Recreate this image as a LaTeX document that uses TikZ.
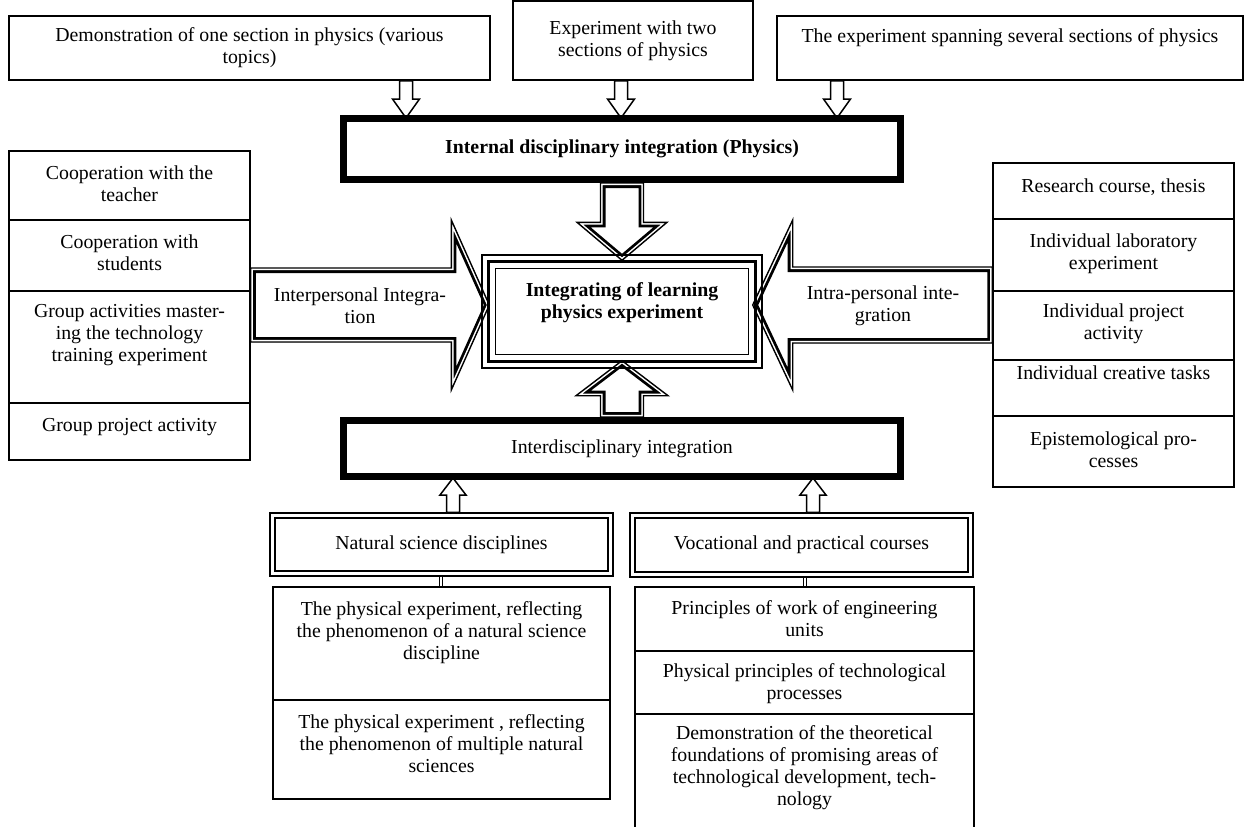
\documentclass[tikz,border=0pt]{standalone}
\usepackage{fontspec}
\setmainfont{Liberation Serif}
\usetikzlibrary{calc}
\pgfdeclarelayer{bg}
\pgfsetlayers{bg,main}
\tikzset{
  fnt/.style={font=\fontsize{19.8}{22}\selectfont},
  bfnt/.style={font=\fontsize{19.8}{22}\selectfont\bfseries},
  txt/.style={fnt, align=center, inner sep=0pt},
  box/.style={txt, draw, line width=1.5pt},
  cellbox/.style={draw, line width=1.5pt, inner sep=0pt},
  thickbox/.style={txt, draw, line width=6.5pt},
  sz/.style 2 args={minimum width=#1pt, minimum height=#2pt},
}
% block arrow geometry: prefix, start, tip, shaft half width, head half width, head length
\newcommand\mkarrow[6]{%
  \coordinate (#1-s) at (#2);
  \coordinate (#1-t) at (#3);
  \coordinate (#1-p) at ($(#1-t)!#6pt!(#1-s)$);
  \coordinate (#1-1) at ($(#1-s)!#4pt!90:(#1-t)$);
  \coordinate (#1-2) at ($(#1-p)!#4pt!90:(#1-t)$);
  \coordinate (#1-3) at ($(#1-p)!#5pt!90:(#1-t)$);
  \coordinate (#1-4) at ($(#1-p)!#5pt!-90:(#1-t)$);
  \coordinate (#1-5) at ($(#1-p)!#4pt!-90:(#1-t)$);
  \coordinate (#1-6) at ($(#1-s)!#4pt!-90:(#1-t)$);
}
\newcommand\apath[1]{(#1-1) -- (#1-2) -- (#1-3) -- (#1-t) -- (#1-4) -- (#1-5) -- (#1-6) -- cycle}
\newcommand\simplearrow[1]{\filldraw[fill=white, line width=1.5pt, line join=miter] \apath{#1};}
\newcommand\doublearrow[1]{%
  \fill[white] \apath{#1};
  \begin{scope}
    \clip \apath{#1};
    \draw[line width=10pt, line join=miter] \apath{#1};
    \draw[white, line width=4.4pt, line join=miter] \apath{#1};
  \end{scope}
  \draw[line width=1.4pt, line join=miter] \apath{#1};
}
\begin{document}
\begin{tikzpicture}[x=1pt,y=-1pt]
\useasboundingbox (0,0) rectangle (1249,827);

% top boxes
\node[box, sz={481}{64}] (A) at (249.5,48) {Demonstration of one section in physics (various\\topics)};
\node[box, sz={240}{79}] (B) at (633,40.5) {Experiment with two\\sections of physics};
\node[cellbox, sz={466}{64}] (C) at (1010,48) {};
\node[txt] (Ct) at (1010,38) {The experiment spanning several sections of physics};

% internal disciplinary integration
\node[thickbox, bfnt, sz={557.5}{61.5}] (I) at (622,149) {Internal disciplinary integration (Physics)};
\draw[line width=1.4pt] ([shift={(6.5,6.5)}]I.north west) rectangle ([shift={(-6.5,-6.5)}]I.south east);

% central box
\node[cellbox, line width=1.4pt, sz={280}{113}] (M) at (622,311.5) {};
\draw[line width=3.5pt] ([shift={(7,7)}]M.north west) rectangle ([shift={(-7,-7)}]M.south east);
\draw[line width=1.4pt] ([shift={(14,14)}]M.north west) rectangle ([shift={(-14,-14)}]M.south east);
\node[txt, bfnt] (Mt) at (622,303) {Integrating of learning\\physics experiment};

% interdisciplinary integration
\node[thickbox, sz={557.5}{56.5}] (D) at (622,448.5) {Interdisciplinary integration};
\draw[line width=1.4pt] ([shift={(6.5,6.5)}]D.north west) rectangle ([shift={(-6.5,-6.5)}]D.south east);

% natural / vocational
\node[box, line width=1.3pt, sz={343}{63}] (N) at (441.5,544.5) {Natural science disciplines};
\draw[line width=2.5pt] ([shift={(5.5,5.5)}]N.north west) rectangle ([shift={(-5.5,-5.5)}]N.south east);
\node[box, line width=1.3pt, sz={343}{64}] (V) at (801.5,545) {Vocational and practical courses};
\draw[line width=2.5pt] ([shift={(5.5,5.5)}]V.north west) rectangle ([shift={(-5.5,-5.5)}]V.south east);

% left column
\node[cellbox, sz={241}{69}] (L1) at (129.5,185.5) {};
\node[txt] (L1t) at (129.5,183.5) {Cooperation with the\\teacher};
\node[cellbox, sz={241}{71}] (L2) at (129.5,255.5) {};
\node[txt] (L2t) at (129.5,252.5) {Cooperation with\\students};
\node[cellbox, sz={241}{112}] (L3) at (129.5,347) {};
\node[txt] (L3t) at (129.5,335) {Group activities master-\\ing the technology\\training experiment};
\node[cellbox, sz={241}{57}] (L4) at (129.5,431.5) {};
\node[txt] (L4t) at (129.5,427) {Group project activity};

% right column
\node[cellbox, sz={241}{56}] (R1) at (1113.5,191) {};
\node[txt] (R1t) at (1113.5,187) {Research course, thesis};
\node[cellbox, sz={241}{72}] (R2) at (1113.5,255) {};
\node[txt] (R2t) at (1113.5,253.5) {Individual laboratory\\experiment};
\node[cellbox, sz={241}{69}] (R3) at (1113.5,325.5) {};
\node[txt] (R3t) at (1113.5,323.5) {Individual project\\activity};
\node[cellbox, sz={241}{56}] (R4) at (1113.5,388) {};
\node[txt] (R4t) at (1113.5,373) {Individual creative tasks};
\node[cellbox, sz={241}{71}] (R5) at (1113.5,451.5) {};
\node[txt] (R5t) at (1113.5,450) {Epistemological pro-\\cesses};

% bottom left column
\node[cellbox, sz={337}{113}] (B1) at (441.5,643.5) {};
\node[txt] (B1t) at (441.5,632.5) {The physical experiment, reflecting\\the phenomenon of a natural science\\discipline};
\node[cellbox, sz={337}{99}] (B2) at (441.5,749.5) {};
\node[txt] (B2t) at (441.5,744) {The physical experiment , reflecting\\the phenomenon of multiple natural\\sciences};

% bottom right column
\node[cellbox, sz={339}{64}] (C1) at (804.5,619) {};
\node[txt] (C1t) at (804.5,619) {Principles of work of engineering\\units};
\node[cellbox, sz={339}{63}] (C2) at (804.5,682.5) {};
\node[txt] (C2t) at (804.5,684) {Physical principles of technological\\processes};
\node[inner sep=0pt, sz={339}{113}] (C3) at (804.5,770.5) {};
\draw[line width=1.5pt] (C3.north west) -- (C3.south west) (C3.north east) -- (C3.south east);
\node[txt] (C3t) at (804.5,768) {Demonstration of the theoretical\\foundations of promising areas of\\technological development, tech-\\nology};

% double connectors
\draw[line width=0.9pt, double, double distance=2.6pt] (441,0 |- N.south) -- (441,0 |- B1.north);
\draw[line width=0.9pt, double, double distance=2.6pt] (805,0 |- V.south) -- (805,0 |- C1.north);

% arrows
\begin{pgfonlayer}{bg}
\mkarrow{ta}{406,0 |- A.south}{$(406,0 |- I.north)+(0,3)$}{6.5}{13.5}{19}
\mkarrow{tb}{621,0 |- B.south}{$(621,0 |- I.north)+(0,3)$}{6.5}{13.5}{19}
\mkarrow{tc}{837,0 |- C.south}{$(837,0 |- I.north)+(0,3)$}{6.5}{13.5}{19}
\simplearrow{ta}
\simplearrow{tb}
\simplearrow{tc}
\mkarrow{bd}{I.south}{$(M.north)+(0,6)$}{21.5}{45}{38}
\mkarrow{bu}{D.north}{$(M.south)+(0,-8)$}{21.5}{46}{35}
\coordinate (ltip) at ($(M.west)+(8,-6.5)$);
\coordinate (rtip) at ($(M.east)+(-10,-6.5)$);
\mkarrow{bl}{L3.east |- ltip}{ltip}{37}{85}{38}
\mkarrow{br}{R2.west |- rtip}{rtip}{38}{85}{40}
\doublearrow{bd}
\doublearrow{bu}
\doublearrow{bl}
\doublearrow{br}
\mkarrow{sn}{453,0 |- N.north}{$(453,0 |- D.south)+(0,-2)$}{6.5}{13}{17}
\mkarrow{sv}{813,0 |- V.north}{$(813,0 |- D.south)+(0,-2)$}{6.5}{13}{17}
\simplearrow{sn}
\simplearrow{sv}
\end{pgfonlayer}

\node[txt] (blt) at (360,306) {Interpersonal Integra-\\tion};
\node[txt] (brt) at (883,306) {Intra-personal inte-\\gration};
\end{tikzpicture}
\end{document}
